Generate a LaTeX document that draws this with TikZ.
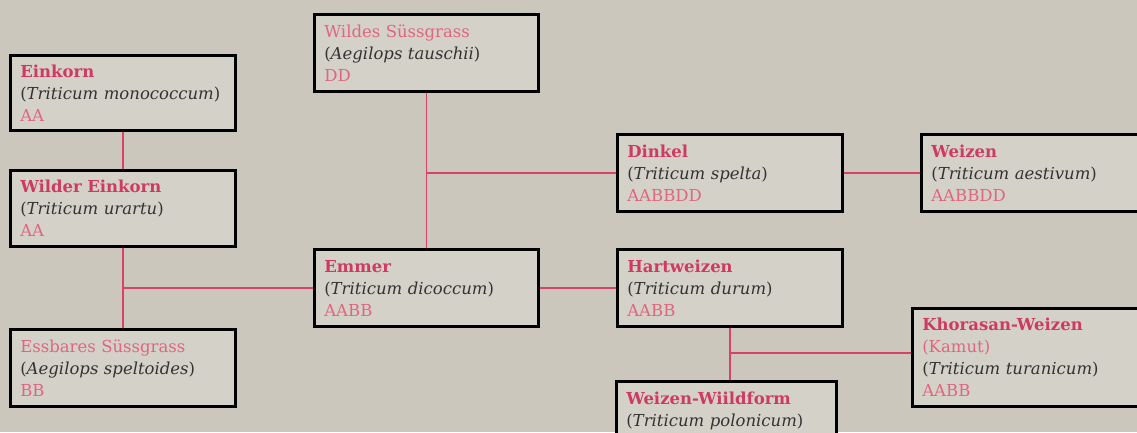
\documentclass[tikz,border=0pt]{standalone}
\usepackage{fontspec}
\setmainfont{DejaVu Serif}
\definecolor{bgcol}{HTML}{CBC7BC}
\definecolor{boxfill}{HTML}{D4D1C8}
\definecolor{titlepink}{HTML}{CF3A60}
\definecolor{lightpink}{HTML}{E0667F}
\definecolor{speciescol}{HTML}{333333}
\definecolor{linkpink}{HTML}{D9406C}
\newcommand{\nTitle}[1]{{\color{titlepink}\bfseries #1}}
\newcommand{\nLight}[1]{{\color{lightpink}#1}}
\newcommand{\nSpec}[1]{{\color{speciescol}(\textit{#1})}}
\begin{document}
\begin{tikzpicture}[x=1pt,y=-1pt,
  box/.style={draw=black, line width=2.6pt, fill=boxfill, anchor=north west,
    align=left, inner xsep=10pt, inner ysep=0pt,
    font=\fontsize{16.5}{22}\selectfont},
  link/.style={draw=linkpink, line width=1.6pt}]
\fill[bgcol] (0,0) rectangle (1137,432);
\useasboundingbox (0,0) rectangle (1137,432);
\clip (0,0) rectangle (1137,432);

\node[box, text width=205.4pt, minimum height=75.4pt] (einkorn) at (9,54)
  {\nTitle{Einkorn}\\\nSpec{Triticum monococcum}\\\nLight{AA}};
\node[box, text width=205.4pt, minimum height=76.4pt] (wildeinkorn) at (9,169)
  {\nTitle{Wilder Einkorn}\\\nSpec{Triticum urartu}\\\nLight{AA}};
\node[box, text width=205.4pt, minimum height=77.4pt] (essbar) at (9,328)
  {\nLight{Essbares Süssgrass}\\\nSpec{Aegilops speltoides}\\\nLight{BB}};
\node[box, text width=204.4pt, minimum height=77.4pt] (wildsuess) at (313,13)
  {\nLight{Wildes Süssgrass}\\\nSpec{Aegilops tauschii}\\\nLight{DD}};
\node[box, text width=204.4pt, minimum height=77.4pt] (emmer) at (313,248)
  {\nTitle{Emmer}\\\nSpec{Triticum dicoccum}\\\nLight{AABB}};
\node[box, text width=205.4pt, minimum height=77.4pt] (dinkel) at (616,133)
  {\nTitle{Dinkel}\\\nSpec{Triticum spelta}\\\nLight{AABBDD}};
\node[box, text width=205.4pt, minimum height=77.4pt] (hartweizen) at (616,248)
  {\nTitle{Hartweizen}\\\nSpec{Triticum durum}\\\nLight{AABB}};
\node[box, text width=250pt, minimum height=77.4pt] (weizen) at (920,133)
  {\nTitle{Weizen}\\\nSpec{Triticum aestivum}\\\nLight{AABBDD}};
\node[box, text width=250pt, minimum height=98.4pt] (khorasan) at (911,307)
  {\nTitle{Khorasan-Weizen}\\\nLight{(Kamut)}\\\nSpec{Triticum turanicum}\\\nLight{AABB}};
\node[box, text width=200.4pt, minimum height=77.4pt] (wildform) at (615,380)
  {\nTitle{Weizen-Wiildform}\\\nSpec{Triticum polonicum}\\\mbox{}};

\draw[link] (einkorn.south) -- (wildeinkorn.north);
\draw[link] (wildeinkorn.south) -- (essbar.north);
\coordinate (j1) at (wildeinkorn.south |- emmer.west);
\draw[link] (j1) -- (emmer.west);
\draw[link] (wildsuess.south) -- (emmer.north);
\coordinate (j2) at (wildsuess.south |- dinkel.west);
\draw[link] (j2) -- (dinkel.west);
\draw[link] (dinkel.east) -- (weizen.west);
\draw[link] (emmer.east) -- (hartweizen.west);
\draw[link] (hartweizen.south) -- (hartweizen.south |- wildform.north);
\coordinate (j3) at ([yshift=-25pt]hartweizen.south);
\draw[link] (j3) -- (j3 -| khorasan.west);
\end{tikzpicture}
\end{document}
